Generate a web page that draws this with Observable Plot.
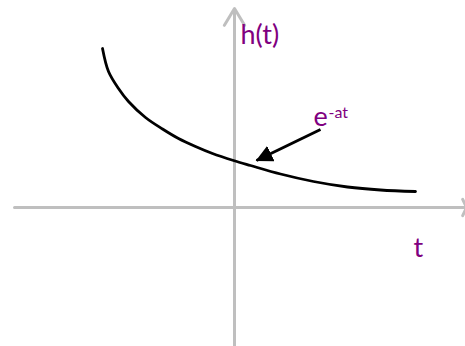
<!DOCTYPE html>
<html>
<head>
<meta charset="utf-8">
<script src="https://cdn.jsdelivr.net/npm/d3@7"></script>
<script src="https://cdn.jsdelivr.net/npm/@observablehq/plot@0.6"></script>
<style>
  html, body { margin: 0; padding: 0; background: #fff; }
  #chart svg { display: block; }
</style>
</head>
<body>
<div id="chart"></div>
<script>
// Curve h(t) = e^{-at} (t, h)
const curveT = [-1.32, -1.26, -1.16, -1.06, -0.89, -0.72, -0.56, -0.39, -0.22, -0.01, 0.16, 0.46, 0.79, 1.13, 1.46, 1.81];
const curveH = [1.59, 1.36, 1.19, 1.06, 0.90, 0.785, 0.69, 0.61, 0.54, 0.47, 0.42, 0.335, 0.26, 0.205, 0.175, 0.16];

// Axis extents (data units)
const xAxisExtent = [-2.2, 2.32];
const yAxisExtent = [-1.38, 1.99];

// Pointer arrow to the curve (start -> tip)
const pointer = [{t1: 0.86, h1: 0.78, t2: 0.22, h2: 0.47}];

// Labels
const labels = [
  {text: "h(t)", t: 0.06, h: 1.64, kind: "big"},
  {text: "e",    t: 0.79, h: 0.82, kind: "big"},
  {text: "-at",  t: 0.94, h: 0.90, kind: "sup"},
  {text: "t",    t: 1.79, h: -0.49, kind: "big"}
];

const curve = curveT.map((t, i) => ({t, h: curveH[i]}));

const axisColor = "#bfbfbf";
const labelColor = "#800080";

function filledArrowMarker(color) {
  const m = d3.create("svg:marker")
    .attr("viewBox", "-17 -8.5 17 17")
    .attr("markerWidth", 17)
    .attr("markerHeight", 17)
    .attr("markerUnits", "userSpaceOnUse")
    .attr("refX", -1)
    .attr("refY", 0)
    .attr("orient", "auto");
  m.append("path").attr("d", "M0,0L-17,-8.5L-17,8.5Z").attr("fill", color).attr("stroke", "none");
  return m.node();
}

const chart = Plot.plot({
  width: 465,
  height: 346,
  margin: 0,
  x: {domain: [-2.34, 2.31], axis: null},
  y: {domain: [-1.39, 2.07], axis: null},
  style: {background: "#fff", fontFamily: "Lato, 'Open Sans', sans-serif"},
  marks: [
    Plot.arrow([{}], {
      x1: () => xAxisExtent[0], x2: () => xAxisExtent[1],
      y1: () => 0, y2: () => 0,
      stroke: axisColor, strokeWidth: 3, headLength: 4.5, headAngle: 130
    }),
    Plot.arrow([{}], {
      x1: () => 0, x2: () => 0,
      y1: () => yAxisExtent[0], y2: () => yAxisExtent[1],
      stroke: axisColor, strokeWidth: 3, headLength: 9.8, headAngle: 62
    }),
    Plot.line(curve, {x: "t", y: "h", curve: "catmull-rom", stroke: "#000", strokeWidth: 2.8}),
    Plot.link(pointer, {
      x1: "t1", y1: "h1", x2: "t2", y2: "h2",
      stroke: "#000", strokeWidth: 3,
      markerEnd: filledArrowMarker
    }),
    Plot.text(labels.filter(d => d.kind === "big"), {
      x: "t", y: "h", text: "text",
      textAnchor: "start", lineAnchor: "bottom",
      fill: labelColor, fontSize: 27
    }),
    Plot.text(labels.filter(d => d.kind === "sup"), {
      x: "t", y: "h", text: "text",
      textAnchor: "start", lineAnchor: "bottom",
      fill: labelColor, fontSize: 16
    })
  ]
});

document.getElementById("chart").append(chart);
</script>
</body>
</html>
